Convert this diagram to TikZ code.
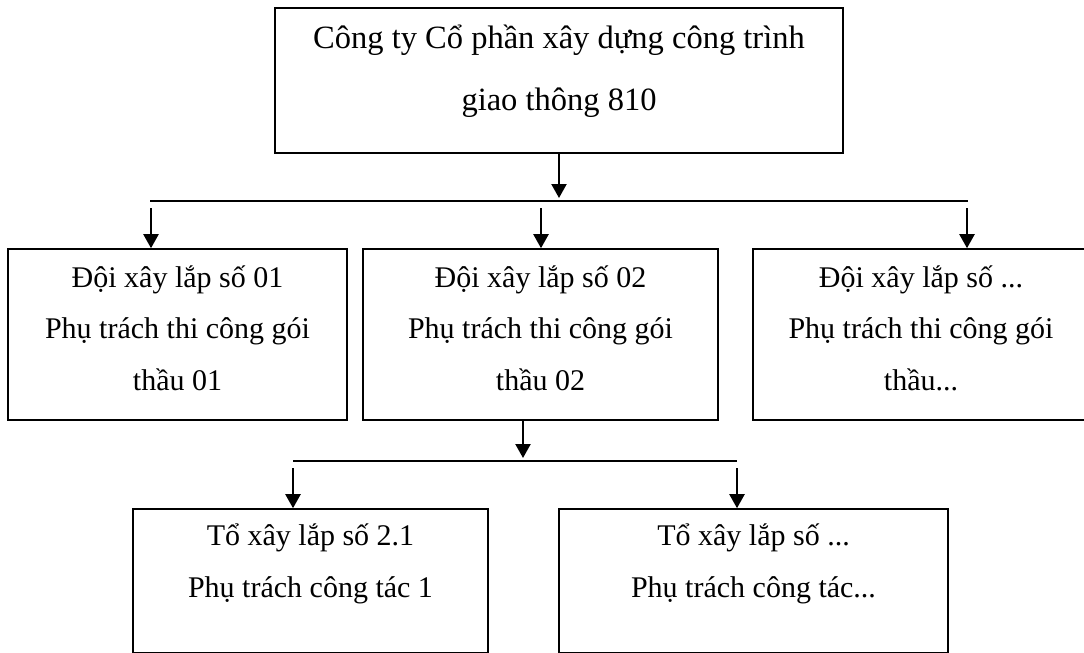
\documentclass[tikz,border=0pt]{standalone}
\usepackage{fontspec}
\setmainfont{Liberation Serif}
\usetikzlibrary{arrows.meta}
\begin{document}
\begin{tikzpicture}[x=1pt,y=-1pt,
  box/.style={draw, line width=1.6pt, inner sep=0pt, rectangle},
  txt/.style={anchor=base, inner sep=0pt, font=\fontsize{30}{36}\selectfont},
  toptxt/.style={anchor=base, inner sep=0pt, font=\fontsize{32.5}{39}\selectfont},
  conn/.style={line width=2.2pt},
  arr/.style={line width=2.2pt, -{Triangle[width=15pt,length=14pt]}}]
\useasboundingbox (0,0) rectangle (1084,653);
\clip (0,0) rectangle (1084,653);

% boxes
\node[box, minimum width=568pt, minimum height=145pt] (top) at (559,80.5) {};
\node[box, minimum width=339pt, minimum height=171pt] (b1) at (177.5,334.5) {};
\node[box, minimum width=355pt, minimum height=171pt] (b2) at (540.5,334.5) {};
\node[box, minimum width=336pt, minimum height=171pt] (b3) at (921,334.5) {};
\node[box, minimum width=355pt, minimum height=144pt] (b4) at (310.5,581) {};
\node[box, minimum width=389pt, minimum height=144pt] (b5) at (753.5,581) {};

% texts
\node[toptxt] (t1) at (559,48) {Công ty Cổ phần xây dựng công trình};
\node[toptxt] (t2) at (559,110) {giao thông 810};

\node[txt] (b1a) at (177.5,287) {Đội xây lắp số 01};
\node[txt] (b1b) at (177.5,338.5) {Phụ trách thi công gói};
\node[txt] (b1c) at (177.5,390) {thầu 01};

\node[txt] (b2a) at (540.5,287) {Đội xây lắp số 02};
\node[txt] (b2b) at (540.5,338.5) {Phụ trách thi công gói};
\node[txt] (b2c) at (540.5,390) {thầu 02};

\node[txt] (b3a) at (921,287) {Đội xây lắp số ...};
\node[txt] (b3b) at (921,338.5) {Phụ trách thi công gói};
\node[txt] (b3c) at (921,390) {thầu...};

\node[txt] (b4a) at (310.5,545) {Tổ xây lắp số 2.1};
\node[txt] (b4b) at (310.5,597) {Phụ trách công tác 1};

\node[txt] (b5a) at (753.5,545) {Tổ xây lắp số ...};
\node[txt] (b5b) at (753.5,597) {Phụ trách công tác...};

% first level connectors
\coordinate (busA) at (559,198);
\coordinate (busAL) at (150,201);
\coordinate (busAR) at (968,201);
\coordinate (s1) at (151,208);
\coordinate (s2) at (541,208);
\coordinate (s3) at (967,208);
\draw[arr] (top.south) -- (busA);
\draw[conn] (busAL) -- (busAR);
\draw[arr] (s1) -- (s1 |- b1.north);
\draw[arr] (s2) -- (s2 |- b2.north);
\draw[arr] (s3) -- (s3 |- b3.north);

% second level connectors
\coordinate (o2) at (523,0);
\coordinate (busB) at (523,458);
\coordinate (busBL) at (293,461);
\coordinate (busBR) at (737,461);
\coordinate (s4) at (293,468);
\coordinate (s5) at (737,468);
\draw[arr] (o2 |- b2.south) -- (busB);
\draw[conn] (busBL) -- (busBR);
\draw[arr] (s4) -- (s4 |- b4.north);
\draw[arr] (s5) -- (s5 |- b5.north);
\end{tikzpicture}
\end{document}
